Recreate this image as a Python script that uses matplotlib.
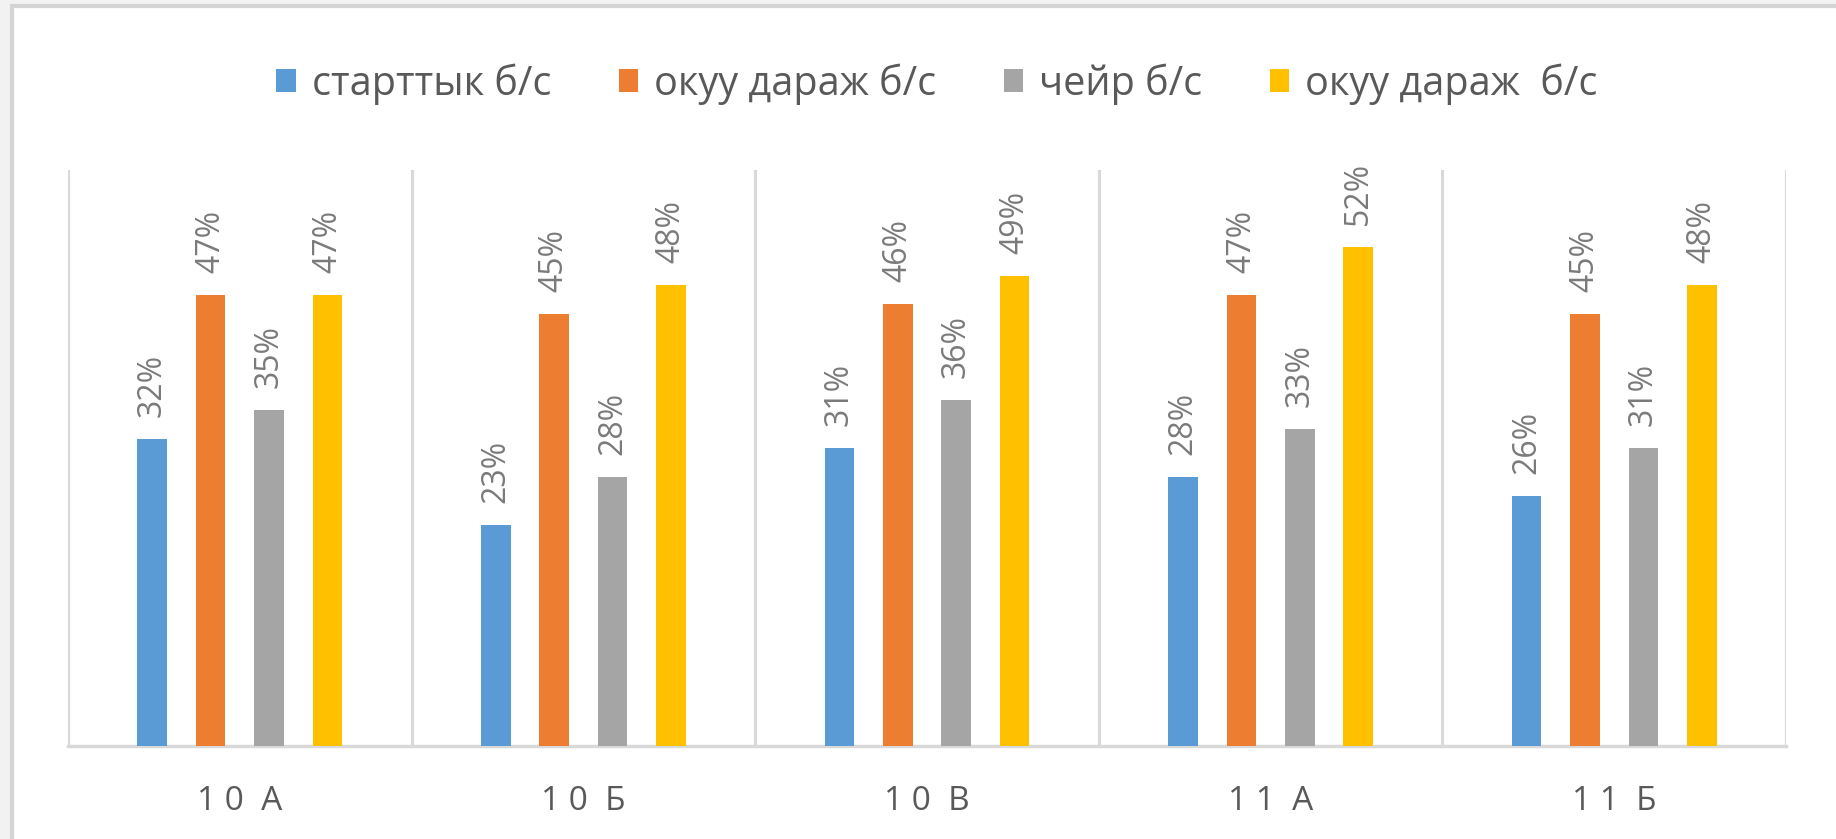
import numpy as np
from matplotlib import pyplot as plt
from matplotlib.patches import Rectangle

plt.rcParams['font.family'] = ['Open Sans', 'DejaVu Sans']

# категориялар жана маалыматтар
classes = ['1 0  А', '1 0  Б', '1 0  В', '1 1  А', '1 1  Б']
series_names = ['старттык б/с', 'окуу дараж б/с', 'чейр б/с', 'окуу дараж  б/с']
start = [32, 23, 31, 28, 26]
level1 = [47, 45, 46, 47, 45]
quarter = [35, 28, 36, 33, 31]
level2 = [47, 48, 49, 52, 48]
colors = ['#5b9bd5', '#ed7d31', '#a5a5a5', '#ffc000']

fig = plt.figure(figsize=(18.36, 8.39), dpi=100, facecolor='#f2f2f2')
# ак фон (скриншоттогу диаграмма аянты)
fig.patches.append(Rectangle((12 / 1836, -0.05), 1.1, 1.05 - 6 / 839,
                             transform=fig.transFigure, facecolor='white',
                             edgecolor='#d4d4d4', linewidth=3, zorder=-10))

ax = fig.add_axes([68 / 1836, 93 / 839, 1718 / 1836, 576 / 839])
ax.set_facecolor('none')

x = np.arange(len(classes))
width = 0.086
offsets = [-0.255, -0.085, 0.085, 0.255]
bars = []
for vals, off, c, name in zip([start, level1, quarter, level2], offsets, colors, series_names):
    b = ax.bar(x + off, np.array(vals) / 100, width, color=c, label=name, zorder=3)
    bars.append(b)
    for xi, v in zip(x + off, vals):
        ax.annotate(f'{v}%', (xi, v / 100), xytext=(0, 22), textcoords='offset pixels',
                    rotation=90, ha='center', va='bottom', fontsize=23, color='#7a7a7a')

ax.set_xlim(-0.5, len(classes) - 0.5)
ax.set_ylim(0, 0.6)
for b in np.arange(-0.5, len(classes), 1.0):
    ax.axvline(b, color='#d9d9d9', linewidth=2.2, zorder=1)
for s in ['top', 'left', 'right']:
    ax.spines[s].set_visible(False)
ax.spines['bottom'].set_color('#d9d9d9')
ax.spines['bottom'].set_linewidth(2.5)
ax.set_yticks([])
ax.set_xticks(x)
ax.set_xticklabels(classes, fontsize=24, color='#595959')
ax.tick_params(axis='x', length=0, pad=28)

fig.legend(handles=bars, labels=series_names, loc='center', bbox_to_anchor=(937 / 1836, 1 - 84 / 839),
           ncol=4, frameon=False, fontsize=28.5, labelcolor='#595959',
           handlelength=0.5, handleheight=0.5, handletextpad=0.4, columnspacing=1.7)

plt.savefig('out.png', dpi=100, facecolor=fig.get_facecolor())
